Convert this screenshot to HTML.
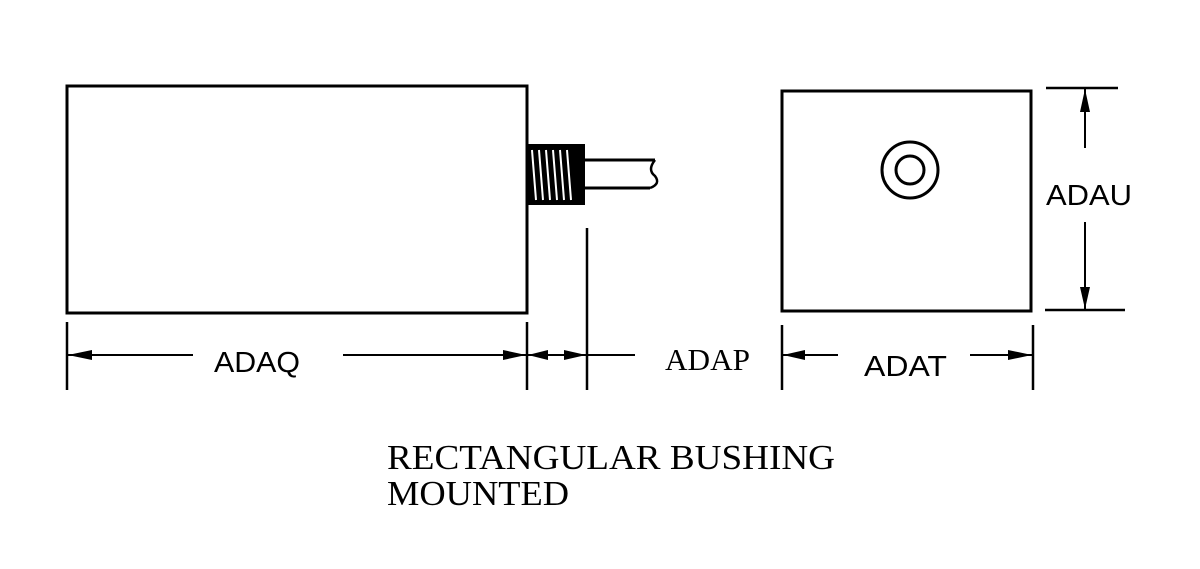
<!DOCTYPE html>
<html><head><style>body{margin:0;background:#fff}svg{display:block}</style></head>
<body>
<svg width="1200" height="569" viewBox="0 0 1200 569" xmlns="http://www.w3.org/2000/svg">
<g stroke="#000" stroke-width="3" fill="none">
<rect x="67" y="86" width="460" height="227"/>
<rect x="782" y="91" width="249" height="220"/>
<circle cx="910" cy="170" r="28"/>
<circle cx="910" cy="170" r="14"/>
<path d="M585 160 H655 M585 188 H650"/>
<path d="M655 160 q-8 10 0 16 q6 8 -5 12" stroke-width="2.5"/>
<!-- extension lines -->
<path d="M67 322 V390 M527 322 V390 M587 228 V390 M782 325 V390 M1033 325 V390" stroke-width="2.5"/>
<path d="M1046 88 H1118 M1045 310 H1125" stroke-width="2.5"/>
<!-- dimension lines -->
<path d="M67 355 H193 M343 355 H527 M527 355 H635 M782 355 H838 M970 355 H1033" stroke-width="2"/>
<path d="M1085 88 V148 M1085 222 V310" stroke-width="2"/>
</g>
<!-- bushing -->
<rect x="527" y="144" width="58" height="61" fill="#000"/>
<g stroke="#fff" stroke-width="2">
<path d="M532 150 L536 200 M539 150 L543 200 M546 150 L550 200 M553 150 L557 200 M560 150 L564 200 M567 150 L571 200"/>
</g>
<!-- arrowheads -->
<g fill="#000">
<path d="M68 355 L92 350 L92 360 Z"/>
<path d="M526 355 L503 350 L503 360 Z"/>
<path d="M528 355 L548 350 L548 360 Z"/>
<path d="M586 355 L564 350 L564 360 Z"/>
<path d="M783 355 L805 350 L805 360 Z"/>
<path d="M1032 355 L1008 350 L1008 360 Z"/>
<path d="M1085 89 L1080 112 L1090 112 Z"/>
<path d="M1085 309 L1080 287 L1090 287 Z"/>
</g>
<g font-family="Liberation Sans, sans-serif" font-size="29" fill="#000">
<text x="214" y="372" textLength="86" lengthAdjust="spacingAndGlyphs">ADAQ</text>
<text x="864" y="376" textLength="83" lengthAdjust="spacingAndGlyphs">ADAT</text>
<text x="1046" y="205" textLength="86" lengthAdjust="spacingAndGlyphs">ADAU</text>
</g>
<text x="665" y="370" font-family="Liberation Serif, serif" font-size="31" textLength="85" lengthAdjust="spacingAndGlyphs">ADAP</text>
<g font-family="Liberation Serif, serif" font-size="35" fill="#000">
<text x="387" y="469" textLength="448" lengthAdjust="spacingAndGlyphs">RECTANGULAR  BUSHING</text>
<text x="387" y="505" textLength="182" lengthAdjust="spacingAndGlyphs">MOUNTED</text>
</g>
</svg>
</body></html>
